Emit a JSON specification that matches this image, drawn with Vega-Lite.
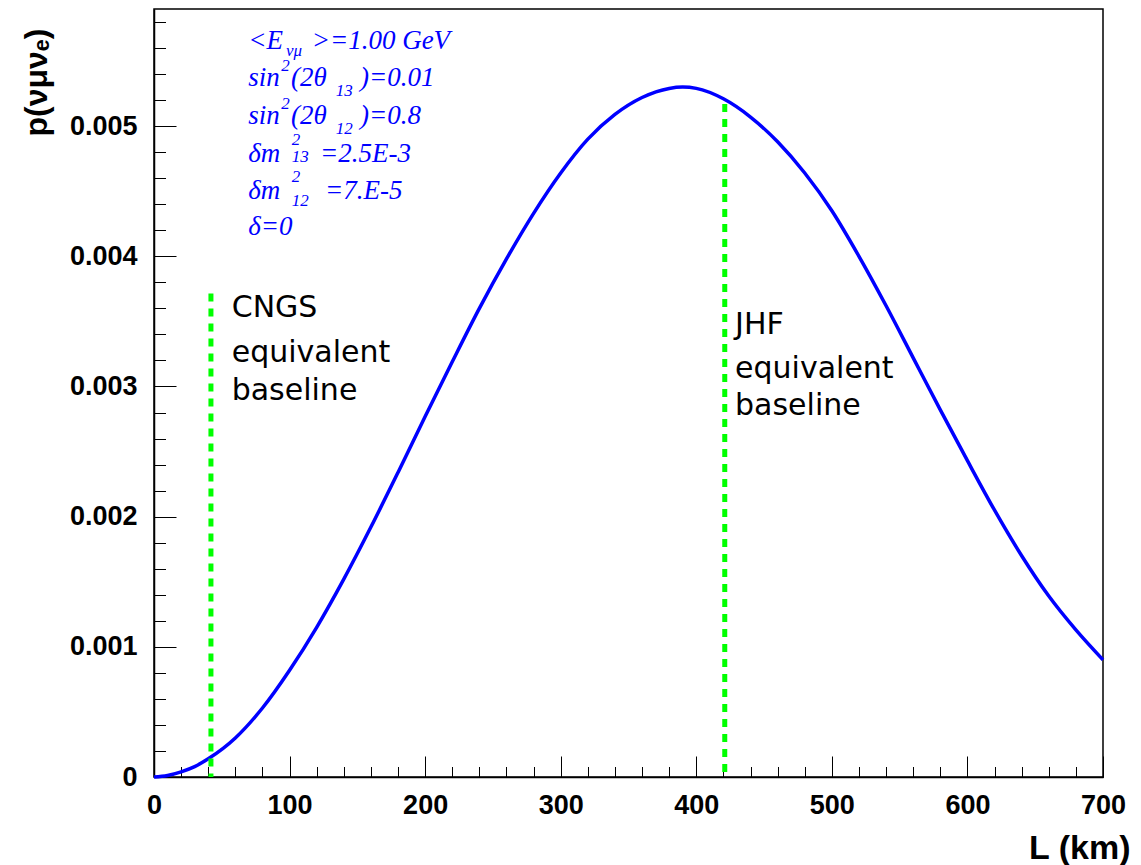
{
  "$schema": "https://vega.github.io/schema/vega-lite/v6.json",
  "width": 949,
  "height": 768,
  "autosize": "none",
  "padding": {"left": 154, "top": 9, "right": 38, "bottom": 88},
  "background": "white",
  "config": {
    "view": {"stroke": "black", "strokeWidth": 1.5},
    "axis": {
      "grid": false,
      "domainColor": "black",
      "domainWidth": 1.5,
      "tickColor": "black",
      "tickWidth": 1,
      "labelFont": "Liberation Sans",
      "labelFontWeight": "bold",
      "labelFontSize": 27,
      "labelColor": "black",
      "titleFont": "Liberation Sans",
      "titleFontWeight": "bold",
      "titleColor": "black"
    }
  },
  "datasets": {
    "curve": [
      {"L": 0, "p": 0.0},
      {"L": 10, "p": 0.000012},
      {"L": 20, "p": 0.00004},
      {"L": 30, "p": 0.00008},
      {"L": 40, "p": 0.00014},
      {"L": 60, "p": 0.0003},
      {"L": 80, "p": 0.00053},
      {"L": 100, "p": 0.00082},
      {"L": 120, "p": 0.00115},
      {"L": 140, "p": 0.00152},
      {"L": 160, "p": 0.00192},
      {"L": 180, "p": 0.00234},
      {"L": 200, "p": 0.00277},
      {"L": 220, "p": 0.00319},
      {"L": 240, "p": 0.0036},
      {"L": 260, "p": 0.00398},
      {"L": 280, "p": 0.00433},
      {"L": 300, "p": 0.00464},
      {"L": 320, "p": 0.0049},
      {"L": 340, "p": 0.00509},
      {"L": 360, "p": 0.00522},
      {"L": 380, "p": 0.00529},
      {"L": 390, "p": 0.0053},
      {"L": 400, "p": 0.00529},
      {"L": 420, "p": 0.00521},
      {"L": 440, "p": 0.00507},
      {"L": 460, "p": 0.00488},
      {"L": 480, "p": 0.00464},
      {"L": 500, "p": 0.00435},
      {"L": 520, "p": 0.004},
      {"L": 540, "p": 0.00362},
      {"L": 560, "p": 0.00322},
      {"L": 580, "p": 0.00282},
      {"L": 600, "p": 0.00243},
      {"L": 620, "p": 0.00205},
      {"L": 640, "p": 0.0017},
      {"L": 660, "p": 0.00139},
      {"L": 680, "p": 0.00113},
      {"L": 700, "p": 0.0009}
    ],
    "baselines": [
      {"name": "CNGS", "L": 42, "top": 0.003714},
      {"name": "JHF", "L": 421, "top": 0.00517}
    ],
    "labels": [
      {"text": "CNGS", "L": 57.3, "p": 0.003533},
      {"text": "equivalent", "L": 57.3, "p": 0.003187},
      {"text": "baseline", "L": 57.3, "p": 0.002893},
      {"text": "JHF", "L": 428.6, "p": 0.003405},
      {"text": "equivalent", "L": 428.6, "p": 0.003068},
      {"text": "baseline", "L": 428.6, "p": 0.002778}
    ],
    "notes": [
      {"role": "main", "text": "<E", "L": 69.56, "p": 0.005593},
      {"role": "small", "text": "νμ", "L": 97.4, "p": 0.005541},
      {"role": "main", "text": ">=1.00 GeV", "L": 116.32, "p": 0.005593},
      {"role": "main", "text": "sin", "L": 69.56, "p": 0.005311},
      {"role": "small", "text": "2", "L": 93.9, "p": 0.005426},
      {"role": "main", "text": "(2θ", "L": 101.1, "p": 0.005311},
      {"role": "small", "text": "13", "L": 134.0, "p": 0.005234},
      {"role": "main", "text": ")=0.01", "L": 151.95, "p": 0.005311},
      {"role": "main", "text": "sin", "L": 69.56, "p": 0.005017},
      {"role": "small", "text": "2", "L": 93.9, "p": 0.005132},
      {"role": "main", "text": "(2θ", "L": 101.1, "p": 0.005017},
      {"role": "small", "text": "12", "L": 134.0, "p": 0.00494},
      {"role": "main", "text": ")=0.8", "L": 151.95, "p": 0.005017},
      {"role": "main", "text": "δm", "L": 69.56, "p": 0.004722},
      {"role": "small", "text": "2", "L": 101.57, "p": 0.004852},
      {"role": "small", "text": "13", "L": 101.57, "p": 0.004722},
      {"role": "main", "text": "=2.5E-3", "L": 122.45, "p": 0.004722},
      {"role": "main", "text": "δm", "L": 69.56, "p": 0.004441},
      {"role": "small", "text": "2", "L": 101.57, "p": 0.004571},
      {"role": "small", "text": "12", "L": 101.57, "p": 0.00439},
      {"role": "main", "text": "=7.E-5", "L": 126.13, "p": 0.004441},
      {"role": "main", "text": "δ=0", "L": 69.56, "p": 0.00416}
    ]
  },
  "resolve": {"axis": {"x": "independent", "y": "independent"}},
  "layer": [
    {
      "data": {"name": "curve"},
      "mark": {"type": "line", "color": "#0000ff", "strokeWidth": 3.5, "interpolate": "monotone"},
      "encoding": {
        "x": {
          "field": "L", "type": "quantitative",
          "scale": {"domain": [0, 700], "nice": false, "zero": false},
          "axis": {
            "orient": "bottom",
            "values": [0, 100, 200, 300, 400, 500, 600, 700],
            "format": "d",
            "tickSize": -21,
            "labelPadding": 36,
            "labelFlush": false,
            "title": "L (km)",
            "titleFontSize": 34,
            "titleAnchor": "end",
            "titleAlign": "right",
            "titleBaseline": "alphabetic",
            "titleX": 976,
            "titleY": 81
          }
        },
        "y": {
          "field": "p", "type": "quantitative",
          "scale": {"domain": [0, 0.0059], "nice": false, "zero": false},
          "axis": {
            "orient": "left",
            "values": [0, 0.001, 0.002, 0.003, 0.004, 0.005],
            "labelExpr": "datum.value == 0 ? '0' : format(datum.value, '.3f')",
            "tickSize": -22,
            "labelPadding": 39,
            "labelFlush": false,
            "title": "p(νμνₑ)",
            "titleFontSize": 32,
            "titleAngle": 270,
            "titleAlign": "right",
            "titleBaseline": "alphabetic",
            "titleX": -108,
            "titleY": 19
          }
        }
      }
    },
    {
      "data": {"name": "baselines"},
      "mark": {"type": "rule", "color": "#00ff00", "strokeWidth": 5, "strokeDash": [8, 7]},
      "encoding": {
        "x": {
          "field": "L", "type": "quantitative",
          "axis": {
            "orient": "bottom",
            "values": [0, 20, 40, 60, 80, 100, 120, 140, 160, 180, 200, 220, 240, 260, 280, 300, 320, 340, 360, 380, 400, 420, 440, 460, 480, 500, 520, 540, 560, 580, 600, 620, 640, 660, 680, 700],
            "tickSize": -10.5,
            "labels": false,
            "domain": false,
            "title": null
          }
        },
        "y": {
          "field": "top", "type": "quantitative",
          "axis": {
            "orient": "left",
            "values": [0, 0.0002, 0.0004, 0.0006, 0.0008, 0.001, 0.0012, 0.0014, 0.0016, 0.0018, 0.002, 0.0022, 0.0024, 0.0026, 0.0028, 0.003, 0.0032, 0.0034, 0.0036, 0.0038, 0.004, 0.0042, 0.0044, 0.0046, 0.0048, 0.005, 0.0052, 0.0054, 0.0056, 0.0058],
            "tickSize": -11.5,
            "labels": false,
            "domain": false,
            "title": null
          }
        },
        "y2": {"datum": 0}
      }
    },
    {
      "data": {"name": "labels"},
      "mark": {"type": "text", "font": "DejaVu Sans", "fontSize": 30, "color": "black", "align": "left", "baseline": "alphabetic"},
      "encoding": {
        "x": {"field": "L", "type": "quantitative", "axis": null},
        "y": {"field": "p", "type": "quantitative", "axis": null},
        "text": {"field": "text", "type": "nominal"}
      }
    },
    {
      "data": {"name": "notes"},
      "transform": [{"filter": "datum.role == 'main'"}],
      "mark": {"type": "text", "font": "Liberation Serif", "fontStyle": "italic", "fontSize": 27, "color": "#0000ff", "align": "left", "baseline": "alphabetic"},
      "encoding": {
        "x": {"field": "L", "type": "quantitative", "axis": null},
        "y": {"field": "p", "type": "quantitative", "axis": null},
        "text": {"field": "text", "type": "nominal"}
      }
    },
    {
      "data": {"name": "notes"},
      "transform": [{"filter": "datum.role == 'small'"}],
      "mark": {"type": "text", "font": "Liberation Serif", "fontStyle": "italic", "fontSize": 17, "color": "#0000ff", "align": "left", "baseline": "alphabetic"},
      "encoding": {
        "x": {"field": "L", "type": "quantitative", "axis": null},
        "y": {"field": "p", "type": "quantitative", "axis": null},
        "text": {"field": "text", "type": "nominal"}
      }
    }
  ]
}
